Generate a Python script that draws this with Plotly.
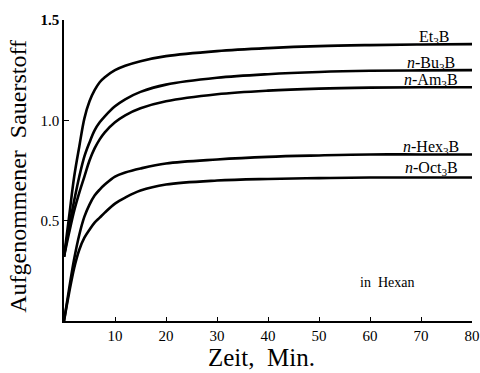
import plotly.graph_objects as go

# ---- data ----
time_min = [0, 1, 2, 3, 4, 5, 6, 7, 8, 10, 12, 15, 20, 30, 40, 50, 60, 70, 80]

et3b  = [0.32, 0.52, 0.72, 0.87, 1.01, 1.095, 1.15, 1.19, 1.215, 1.25, 1.272, 1.295, 1.32, 1.345, 1.36, 1.37, 1.375, 1.378, 1.38]
bu3b  = [0.32, 0.47, 0.60, 0.72, 0.82, 0.89, 0.95, 0.99, 1.02, 1.07, 1.105, 1.142, 1.178, 1.212, 1.23, 1.241, 1.247, 1.249, 1.25]
am3b  = [0.32, 0.44, 0.55, 0.64, 0.72, 0.80, 0.86, 0.905, 0.94, 0.99, 1.025, 1.06, 1.095, 1.13, 1.148, 1.158, 1.163, 1.165, 1.165]
hex3b = [0.0, 0.16, 0.31, 0.43, 0.52, 0.58, 0.625, 0.655, 0.68, 0.72, 0.74, 0.76, 0.785, 0.805, 0.818, 0.825, 0.83, 0.83, 0.83]
oct3b = [0.0, 0.14, 0.265, 0.355, 0.415, 0.455, 0.49, 0.515, 0.54, 0.585, 0.615, 0.65, 0.68, 0.70, 0.708, 0.712, 0.715, 0.715, 0.715]

series_names = ["Et<sub>3</sub>B", "<i>n</i>-Bu<sub>3</sub>B", "<i>n</i>-Am<sub>3</sub>B",
                "<i>n</i>-Hex<sub>3</sub>B", "<i>n</i>-Oct<sub>3</sub>B"]
series_values = [et3b, bu3b, am3b, hex3b, oct3b]
label_x = [72.6, 72.0, 72.0, 72.0, 72.0]
label_y = [1.415, 1.285, 1.20, 0.867, 0.762]

x_tickvals = [10, 20, 30, 40, 50, 60, 70, 80]
x_ticktext = ["10", "20", "30", "40", "50", "60", "70", "80"]
y_tickvals = [0.5, 1.0, 1.5]
y_ticktext = ["0.5", "1.0", "<b>1.5</b>"]

SERIF = "Liberation Serif, DejaVu Serif, serif"

fig = go.Figure()
for name, vals in zip(series_names, series_values):
    fig.add_trace(go.Scatter(x=time_min, y=vals, mode="lines",
                             line=dict(color="black", width=2.6, shape="spline", smoothing=1.0),
                             name=name, showlegend=False, hoverinfo="skip"))

for name, lx, ly in zip(series_names, label_x, label_y):
    fig.add_annotation(x=lx, y=ly, xref="x", yref="y", text=name, showarrow=False,
                       xanchor="center", yanchor="middle",
                       font=dict(family=SERIF, size=16, color="black"))

fig.add_annotation(x=63.4, y=0.19, xref="x", yref="y", text="in  Hexan", showarrow=False,
                   xanchor="center", yanchor="middle",
                   font=dict(family=SERIF, size=14, color="black"))

fig.add_annotation(x=-0.113, y=0.482, xref="paper", yref="paper", text="Aufgenommener  Sauerstoff",
                   textangle=-90, showarrow=False, xanchor="center", yanchor="middle",
                   font=dict(family=SERIF, size=24, color="black"))
fig.add_annotation(x=0.484, y=-0.12, xref="paper", yref="paper", text="Zeit,  Min.",
                   showarrow=False, xanchor="center", yanchor="middle",
                   font=dict(family=SERIF, size=25, color="black"))

fig.update_layout(
    width=480, height=373,
    margin=dict(l=64, r=8, t=20, b=52, autoexpand=False),
    paper_bgcolor="white", plot_bgcolor="white",
    xaxis=dict(range=[0, 80], tickvals=x_tickvals, ticktext=x_ticktext, automargin=False,
               showgrid=False, zeroline=False, showline=True, linecolor="black", linewidth=1.5,
               ticks="inside", ticklen=4, tickcolor="black",
               tickfont=dict(family=SERIF, size=15, color="black")),
    yaxis=dict(range=[0, 1.5], tickvals=y_tickvals, ticktext=y_ticktext, automargin=False,
               showgrid=False, zeroline=False, showline=True, linecolor="black", linewidth=1.5,
               ticks="inside", ticklen=5, tickcolor="black",
               tickfont=dict(family=SERIF, size=15, color="black")),
)

fig.write_html("out.html", config={"displayModeBar": False},
               post_script="document.body.style.margin='0';")
